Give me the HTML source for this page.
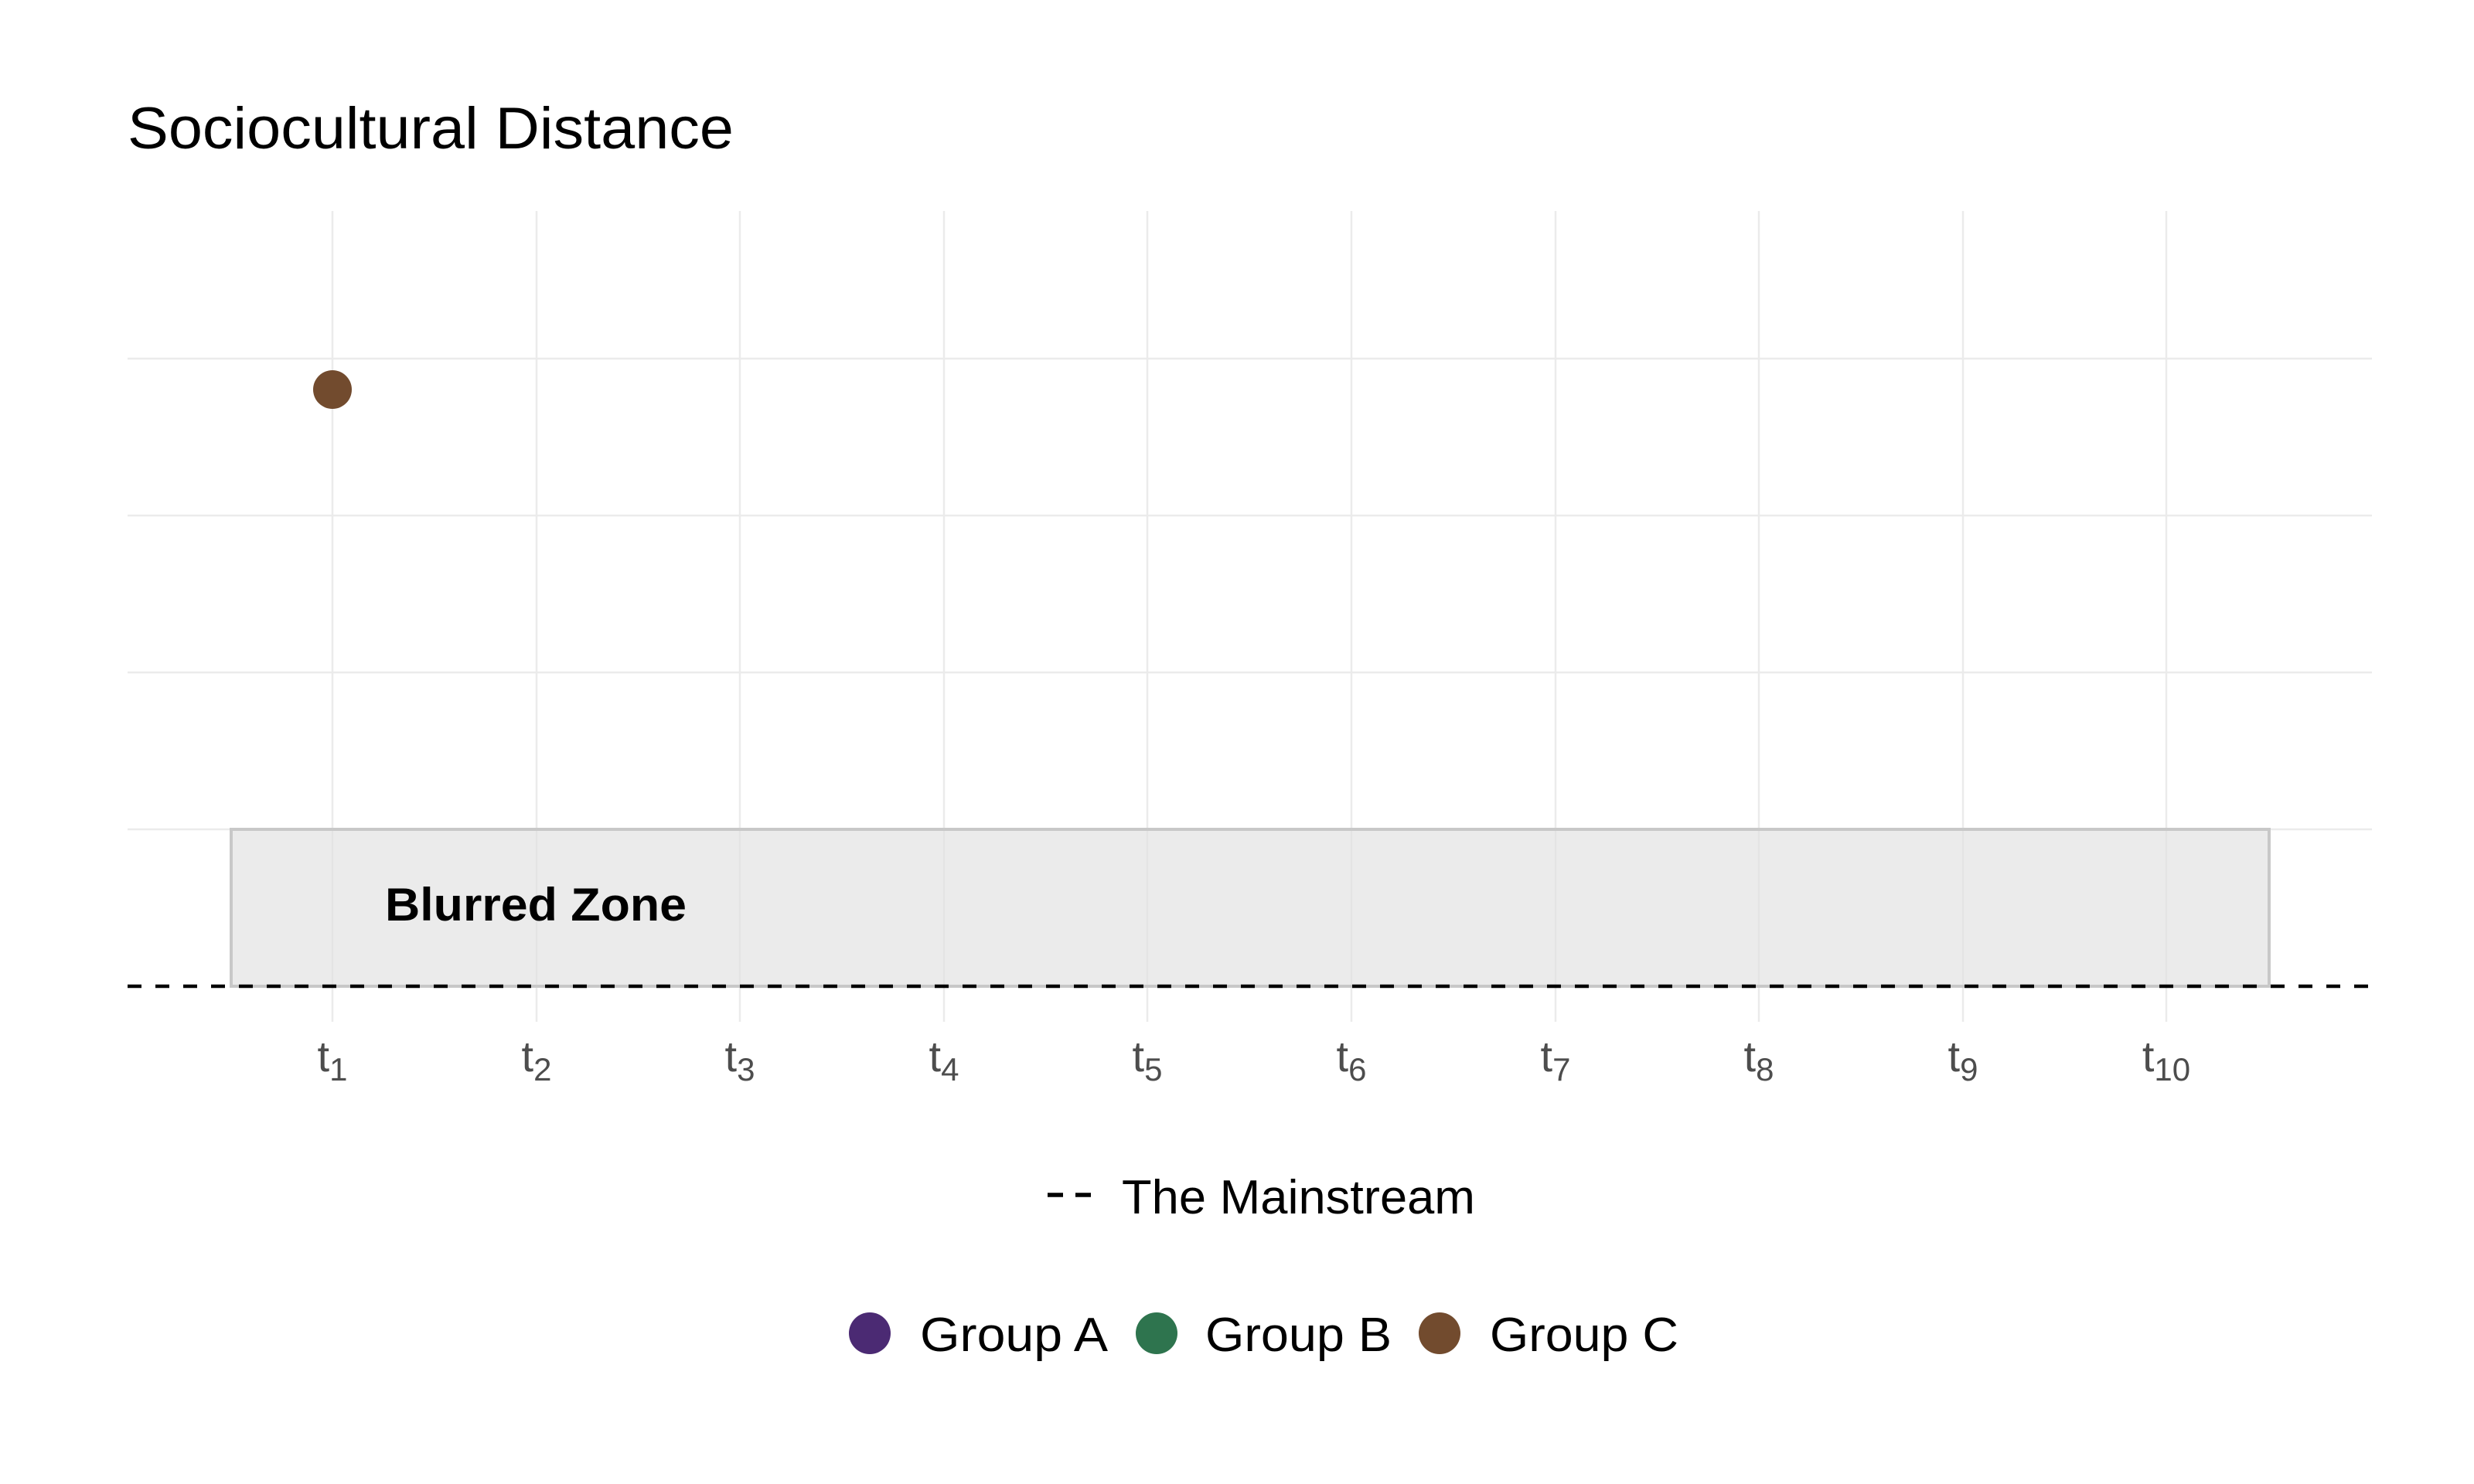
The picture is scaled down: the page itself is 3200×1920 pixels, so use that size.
<!DOCTYPE html>
<html><head><meta charset="utf-8"><style>
html,body{margin:0;padding:0;background:#fff}
svg{display:block}
text{font-family:"Liberation Sans",sans-serif}
</style></head><body>
<svg width="3200" height="1920" viewBox="0 0 3200 1920" xmlns="http://www.w3.org/2000/svg">
<rect width="3200" height="1920" fill="#fff"/>
<text x="165" y="192" font-size="76" fill="#000" textLength="784" lengthAdjust="spacingAndGlyphs">Sociocultural Distance</text>
<g stroke="#ebebeb" stroke-width="2.5">
<line x1="165" x2="3068" y1="464" y2="464"/>
<line x1="165" x2="3068" y1="667" y2="667"/>
<line x1="165" x2="3068" y1="870" y2="870"/>
<line x1="165" x2="3068" y1="1073" y2="1073"/>
</g>
<g stroke="#ebebeb" stroke-width="2.5">
<line x1="430" x2="430" y1="273" y2="1322"/>
<line x1="694" x2="694" y1="273" y2="1322"/>
<line x1="957" x2="957" y1="273" y2="1322"/>
<line x1="1221" x2="1221" y1="273" y2="1322"/>
<line x1="1484" x2="1484" y1="273" y2="1322"/>
<line x1="1748" x2="1748" y1="273" y2="1322"/>
<line x1="2012" x2="2012" y1="273" y2="1322"/>
<line x1="2275" x2="2275" y1="273" y2="1322"/>
<line x1="2539" x2="2539" y1="273" y2="1322"/>
<line x1="2802" x2="2802" y1="273" y2="1322"/>
</g>
<rect x="299" y="1073" width="2636" height="203" fill="#e0e0e0" fill-opacity="0.65" stroke="#c8c8c8" stroke-width="4"/>
<text x="498" y="1191" font-size="60" font-weight="bold" fill="#000" textLength="390" lengthAdjust="spacingAndGlyphs">Blurred Zone</text>
<line x1="165" x2="3068" y1="1276" y2="1276" stroke="#000" stroke-width="4.5" stroke-dasharray="18,18"/>
<circle cx="430" cy="504" r="25" fill="#724B2E"/>
<g font-size="56" fill="#4d4d4d" text-anchor="middle">
<text x="430" y="1386">t<tspan font-size="42" dy="12">1</tspan></text>
<text x="694" y="1386">t<tspan font-size="42" dy="12">2</tspan></text>
<text x="957" y="1386">t<tspan font-size="42" dy="12">3</tspan></text>
<text x="1221" y="1386">t<tspan font-size="42" dy="12">4</tspan></text>
<text x="1484" y="1386">t<tspan font-size="42" dy="12">5</tspan></text>
<text x="1748" y="1386">t<tspan font-size="42" dy="12">6</tspan></text>
<text x="2012" y="1386">t<tspan font-size="42" dy="12">7</tspan></text>
<text x="2275" y="1386">t<tspan font-size="42" dy="12">8</tspan></text>
<text x="2539" y="1386">t<tspan font-size="42" dy="12">9</tspan></text>
<text x="2802" y="1386">t<tspan font-size="42" dy="12">10</tspan></text>
</g>
<line x1="1355" x2="1414" y1="1546" y2="1546" stroke="#000" stroke-width="5.5" stroke-dasharray="20,16"/>
<text x="1451" y="1570" font-size="62" fill="#000" textLength="457" lengthAdjust="spacingAndGlyphs">The Mainstream</text>
<circle cx="1125" cy="1725" r="27" fill="#4B2A73"/>
<text x="1190" y="1748" font-size="62" fill="#000" textLength="243" lengthAdjust="spacingAndGlyphs">Group A</text>
<circle cx="1496" cy="1725" r="27" fill="#2E744E"/>
<text x="1559" y="1748" font-size="62" fill="#000" textLength="241" lengthAdjust="spacingAndGlyphs">Group B</text>
<circle cx="1862" cy="1725" r="27" fill="#724B2E"/>
<text x="1927" y="1748" font-size="62" fill="#000" textLength="244" lengthAdjust="spacingAndGlyphs">Group C</text>
</svg>
</body></html>
